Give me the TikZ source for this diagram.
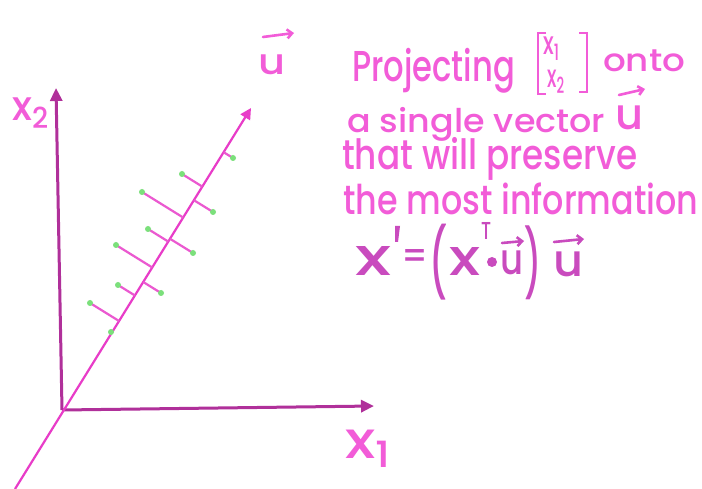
\documentclass[tikz,border=0pt]{standalone}
\usepackage{fontspec}
\setmainfont{Poppins}
\newfontfamily\pmed{Poppins}[UprightFont=* Medium]
\usetikzlibrary{calc,arrows.meta}
\definecolor{txtpink}{HTML}{F25CD8}
\definecolor{eqpink}{HTML}{C94BBE}
\definecolor{axispurple}{HTML}{B0309A}
\definecolor{linepink}{HTML}{E83CC8}
\definecolor{dotgreen}{HTML}{7BE07B}
\newcommand\fitto[3]{\resizebox*{#1pt}{#2pt}{\pmed #3}}
\tikzset{
 axisline/.style={draw=axispurple, line width=3pt, -{Triangle[length=13pt,width=12pt]}},
 uline/.style={draw=linepink, line width=2.2pt, -{Triangle[length=11pt,width=11pt]}},
 projline/.style={draw=linepink!85!white, line width=2.2pt},
 datadot/.style={circle, fill=dotgreen, inner sep=0pt, minimum size=6pt},
 txt/.style={text=txtpink, inner sep=0pt, anchor=north west},
 eqtxt/.style={text=eqpink, inner sep=0pt, anchor=north west},
 vecarrow/.style={line width=2.6pt, line cap=round, -{Straight Barb[length=5pt,width=9pt]}},
 bracket/.style={draw=txtpink, line width=2.4pt},
}
\begin{document}
\begin{tikzpicture}[x=1pt,y=-1pt]
\useasboundingbox (0,0) rectangle (702,489);
\fill[white] (0,0) rectangle (702,489);
\coordinate (O) at (62,410);
\coordinate (Y) at (56,88);
\coordinate (X) at (374,406);
\coordinate (A) at (15,489);
\coordinate (B) at (251,108);
\draw[axisline] (O) -- (Y);
\draw[axisline] (O) -- (X);
\draw[uline] (A) -- (B);
\foreach \px/\py [count=\i] in {90/303, 118/285, 116/245, 161/293, 148/229, 193/253, 142/192, 182/174, 213/212, 233/158} {
  \coordinate (p\i) at (\px,\py);
  \coordinate (f\i) at ($(A)!(p\i)!(B)$);
  \draw[projline] (p\i) -- (f\i);
  \node[datadot] (d\i) at (p\i) {};
}
\node[datadot] (d11) at (111,332) {};
% axis labels
\node[txt] (lx2) at (12,98) {\fitto{38}{30}{x\textsubscript{2}}};
\node[txt] (lx1) at (345,430) {\fitto{48}{37}{x\textsubscript{1}}};
\node[txt] (lu) at (258,55) {\fitto{27}{20}{u}};
\draw[vecarrow, draw=txtpink] (263,37) -- (294,33);
% text
\node[txt] (t1a) at (352,48) {\fitto{163}{45}{Projecting}};
\node[txt] (v1) at (543,37) {\fitto{17}{23}{x\textsubscript{1}}};
\node[txt] (v2) at (547,70) {\fitto{18}{23}{x\textsubscript{2}}};
\draw[bracket] (546,33) -- (538,33) -- (538,94) -- (546,94);
\draw[bracket] (579,33) -- (587,33) -- (587,92) -- (579,92);
\node[txt] (t1b) at (603,50) {\fitto{82}{22}{onto}};
\node[txt] (t2) at (347,107) {\fitto{258}{34}{a single vector}};
\node[txt] (t2u) at (615,106) {\fitto{28}{24}{u}};
\draw[vecarrow, draw=txtpink] (619,95) -- (645,89);
\node[txt] (t3) at (342,137) {\fitto{295}{43}{that will preserve}};
\node[txt] (t4) at (343,183) {\fitto{355}{32}{the most information}};
% equation
\node[eqtxt] (e1) at (355,246) {\fitto{36}{29}{x}};
\fill[eqpink] (395,226) -- (400,226) -- (398,242) -- (395,242) -- cycle;
\node[eqtxt] (e2) at (401,249) {\fitto{27}{19}{=}};
\node[eqtxt] (e3) at (429,224) {\fitto{18}{76}{(}};
\node[eqtxt] (e4) at (449,247) {\fitto{31}{28}{x}};
\node[eqtxt] (e5) at (481,222) {\fitto{10}{17}{T}};
\node[circle, fill=eqpink, inner sep=0pt, minimum size=10pt] (e6) at (492,262) {};
\node[eqtxt] (e7) at (500,251) {\fitto{23}{24}{u}};
\draw[vecarrow, draw=eqpink] (502,243) -- (524,241);
\node[eqtxt] (e8) at (524,226) {\fitto{17}{74}{)}};
\node[eqtxt] (e9) at (553,252) {\fitto{30}{25}{u}};
\draw[vecarrow, draw=eqpink] (554,242) -- (584,239);
\end{tikzpicture}
\end{document}
